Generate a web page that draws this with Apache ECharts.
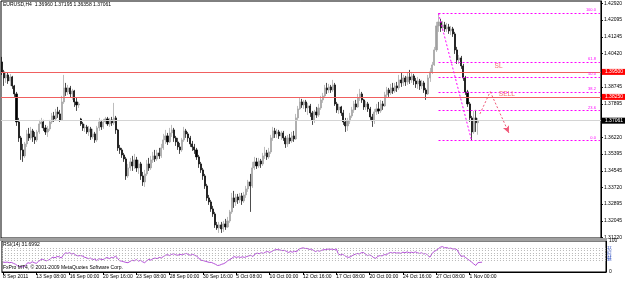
<!DOCTYPE html>
<html><head><meta charset="utf-8">
<script src="https://cdn.jsdelivr.net/npm/echarts@6.0.0/dist/echarts.min.js"></script>
<style>html,body{margin:0;padding:0;background:#fff}#c{width:625px;height:281px}</style>
</head><body><div id="c"></div>
<script>
// ---------- data ----------
const timeLabels = ['8 Sep 2011','13 Sep 08:00','16 Sep 00:00','20 Sep 16:00','23 Sep 08:00','28 Sep 00:00','30 Sep 16:00','5 Oct 08:00','10 Oct 00:00','12 Oct 16:00','17 Oct 08:00','20 Oct 00:00','24 Oct 16:00','27 Oct 08:00','1 Nov 00:00'];
const priceTicks = [1.42920,1.42095,1.41245,1.40420,1.38745,1.37895,1.36220,1.35395,1.34545,1.33720,1.32895,1.32045,1.31220];
// [open, close, low, high]
const candles = [
[1.4000,1.3950,1.3935,1.4025],[1.3950,1.3920,1.3880,1.3960],[1.3920,1.3935,1.3895,1.3950],[1.3935,1.3905,1.3890,1.3945],[1.3905,1.3925,1.3880,1.3940],
[1.3925,1.3880,1.3865,1.3930],[1.3880,1.3840,1.3825,1.3885],[1.3840,1.3700,1.3680,1.3850],[1.3700,1.3620,1.3600,1.3720],[1.3620,1.3560,1.3510,1.3630],
[1.3560,1.3530,1.3500,1.3590],[1.3530,1.3590,1.3520,1.3600],[1.3590,1.3640,1.3575,1.3660],[1.3640,1.3620,1.3605,1.3670],[1.3620,1.3655,1.3610,1.3675],
[1.3655,1.3625,1.3600,1.3665],[1.3625,1.3610,1.3590,1.3650],[1.3610,1.3650,1.3600,1.3660],[1.3650,1.3690,1.3640,1.3710],[1.3690,1.3700,1.3670,1.3720],
[1.3700,1.3670,1.3655,1.3710],[1.3670,1.3650,1.3635,1.3685],[1.3650,1.3665,1.3625,1.3680],[1.3665,1.3700,1.3655,1.3710],[1.3700,1.3730,1.3690,1.3745],
[1.3730,1.3715,1.3700,1.3750],[1.3715,1.3750,1.3705,1.3765],[1.3750,1.3740,1.3720,1.3775],[1.3740,1.3710,1.3700,1.3760],[1.3710,1.3800,1.3705,1.3830],
[1.3800,1.3870,1.3790,1.3935],[1.3870,1.3850,1.3830,1.3895],[1.3850,1.3870,1.3835,1.3885],[1.3870,1.3840,1.3820,1.3880],[1.3840,1.3855,1.3810,1.3865],
[1.3855,1.3800,1.3775,1.3860],[1.3800,1.3785,1.3755,1.3820],[1.3785,1.3790,1.3770,1.3800],[1.3715,1.3690,1.3680,1.3720],[1.3690,1.3670,1.3655,1.3700],
[1.3670,1.3675,1.3650,1.3690],[1.3675,1.3650,1.3640,1.3685],[1.3650,1.3665,1.3630,1.3680],[1.3665,1.3625,1.3610,1.3675],[1.3625,1.3640,1.3615,1.3665],
[1.3640,1.3610,1.3595,1.3650],[1.3610,1.3670,1.3600,1.3680],[1.3670,1.3700,1.3655,1.3720],[1.3700,1.3675,1.3660,1.3710],[1.3675,1.3700,1.3665,1.3715],
[1.3700,1.3715,1.3690,1.3725],[1.3715,1.3690,1.3680,1.3725],[1.3690,1.3710,1.3675,1.3720],[1.3710,1.3695,1.3680,1.3725],[1.3695,1.3720,1.3685,1.3795],
[1.3720,1.3660,1.3640,1.3730],[1.3660,1.3570,1.3555,1.3665],[1.3570,1.3560,1.3540,1.3585],[1.3560,1.3535,1.3520,1.3570],[1.3535,1.3515,1.3500,1.3545],
[1.3515,1.3430,1.3410,1.3525],[1.3430,1.3470,1.3420,1.3490],[1.3470,1.3500,1.3455,1.3520],[1.3500,1.3480,1.3455,1.3530],[1.3480,1.3510,1.3465,1.3540],
[1.3510,1.3470,1.3450,1.3525],[1.3470,1.3490,1.3440,1.3510],[1.3490,1.3430,1.3410,1.3500],[1.3430,1.3400,1.3380,1.3450],[1.3400,1.3440,1.3375,1.3460],
[1.3440,1.3490,1.3430,1.3510],[1.3490,1.3470,1.3455,1.3520],[1.3470,1.3510,1.3460,1.3530],[1.3510,1.3530,1.3495,1.3550],[1.3530,1.3515,1.3500,1.3560],
[1.3515,1.3545,1.3505,1.3560],[1.3545,1.3530,1.3515,1.3570],[1.3530,1.3570,1.3520,1.3590],[1.3570,1.3610,1.3560,1.3640],[1.3610,1.3630,1.3590,1.3660],
[1.3630,1.3600,1.3585,1.3645],[1.3600,1.3645,1.3595,1.3670],[1.3645,1.3660,1.3625,1.3685],[1.3660,1.3620,1.3600,1.3670],[1.3620,1.3600,1.3580,1.3630],
[1.3600,1.3575,1.3560,1.3620],[1.3575,1.3560,1.3540,1.3595],[1.3560,1.3610,1.3550,1.3620],[1.3610,1.3655,1.3600,1.3675],[1.3655,1.3640,1.3620,1.3665],
[1.3640,1.3620,1.3600,1.3650],[1.3620,1.3590,1.3575,1.3630],[1.3590,1.3575,1.3555,1.3605],[1.3575,1.3560,1.3540,1.3590],[1.3560,1.3525,1.3510,1.3570],
[1.3525,1.3490,1.3470,1.3535],[1.3490,1.3460,1.3445,1.3500],[1.3460,1.3430,1.3410,1.3470],[1.3430,1.3380,1.3365,1.3440],[1.3380,1.3320,1.3305,1.3390],
[1.3320,1.3300,1.3285,1.3335],[1.3300,1.3265,1.3250,1.3310],[1.3265,1.3240,1.3225,1.3280],[1.3240,1.3185,1.3170,1.3250],[1.3185,1.3170,1.3160,1.3200],
[1.3170,1.3185,1.3145,1.3200],[1.3185,1.3165,1.3145,1.3200],[1.3165,1.3190,1.3150,1.3205],[1.3190,1.3175,1.3160,1.3215],[1.3175,1.3205,1.3170,1.3225],
[1.3205,1.3250,1.3195,1.3260],[1.3250,1.3320,1.3240,1.3345],[1.3320,1.3300,1.3270,1.3355],[1.3300,1.3325,1.3280,1.3340],[1.3325,1.3310,1.3290,1.3340],
[1.3310,1.3330,1.3295,1.3345],[1.3330,1.3305,1.3285,1.3345],[1.3305,1.3335,1.3295,1.3350],[1.3335,1.3365,1.3320,1.3380],[1.3365,1.3400,1.3350,1.3410],
[1.3400,1.3380,1.3250,1.3440],[1.3380,1.3470,1.3370,1.3500],[1.3470,1.3500,1.3460,1.3525],[1.3500,1.3480,1.3465,1.3520],[1.3480,1.3505,1.3470,1.3520],
[1.3505,1.3490,1.3470,1.3515],[1.3490,1.3530,1.3480,1.3545],[1.3530,1.3545,1.3515,1.3575],[1.3545,1.3525,1.3510,1.3560],[1.3525,1.3550,1.3515,1.3570],
[1.3550,1.3620,1.3540,1.3635],[1.3620,1.3655,1.3605,1.3675],[1.3655,1.3640,1.3620,1.3670],[1.3640,1.3650,1.3620,1.3665],[1.3650,1.3630,1.3615,1.3660],
[1.3630,1.3645,1.3610,1.3655],[1.3645,1.3620,1.3605,1.3655],[1.3620,1.3590,1.3570,1.3630],[1.3590,1.3620,1.3575,1.3635],[1.3620,1.3605,1.3590,1.3640],
[1.3605,1.3630,1.3595,1.3650],[1.3630,1.3615,1.3600,1.3655],[1.3615,1.3720,1.3610,1.3740],[1.3720,1.3765,1.3705,1.3780],[1.3765,1.3800,1.3760,1.3820],
[1.3800,1.3785,1.3770,1.3815],[1.3785,1.3800,1.3765,1.3810],[1.3800,1.3770,1.3750,1.3810],[1.3770,1.3780,1.3735,1.3795],[1.3780,1.3745,1.3725,1.3790],
[1.3745,1.3710,1.3685,1.3755],[1.3710,1.3750,1.3695,1.3760],[1.3750,1.3735,1.3720,1.3775],[1.3735,1.3770,1.3725,1.3790],[1.3770,1.3810,1.3760,1.3830],
[1.3810,1.3830,1.3795,1.3845],[1.3830,1.3870,1.3820,1.3885],[1.3870,1.3860,1.3840,1.3895],[1.3860,1.3875,1.3845,1.3890],[1.3875,1.3860,1.3845,1.3885],
[1.3860,1.3885,1.3850,1.3910],[1.3885,1.3790,1.3780,1.3895],[1.3790,1.3760,1.3745,1.3800],[1.3760,1.3775,1.3740,1.3790],[1.3775,1.3745,1.3730,1.3780],
[1.3745,1.3700,1.3685,1.3760],[1.3700,1.3680,1.3650,1.3720],[1.3680,1.3705,1.3655,1.3720],[1.3705,1.3730,1.3690,1.3745],[1.3730,1.3760,1.3720,1.3775],
[1.3760,1.3790,1.3745,1.3805],[1.3790,1.3775,1.3760,1.3810],[1.3775,1.3820,1.3770,1.3840],[1.3820,1.3840,1.3805,1.3865],[1.3840,1.3810,1.3795,1.3850],
[1.3810,1.3775,1.3760,1.3815],[1.3775,1.3790,1.3760,1.3805],[1.3790,1.3765,1.3750,1.3800],[1.3765,1.3725,1.3710,1.3775],[1.3725,1.3705,1.3675,1.3740],
[1.3705,1.3750,1.3690,1.3765],[1.3750,1.3765,1.3735,1.3790],[1.3765,1.3755,1.3740,1.3800],[1.3755,1.3790,1.3745,1.3810],[1.3790,1.3780,1.3760,1.3805],
[1.3780,1.3835,1.3775,1.3850],[1.3835,1.3860,1.3820,1.3875],[1.3860,1.3845,1.3825,1.3870],[1.3845,1.3870,1.3835,1.3890],[1.3870,1.3855,1.3840,1.3895],
[1.3855,1.3880,1.3845,1.3895],[1.3880,1.3870,1.3850,1.3900],[1.3870,1.3910,1.3860,1.3935],[1.3910,1.3895,1.3875,1.3945],[1.3895,1.3920,1.3880,1.3935],
[1.3920,1.3900,1.3880,1.3930],[1.3900,1.3925,1.3885,1.3945],[1.3925,1.3910,1.3890,1.3960],[1.3910,1.3930,1.3895,1.3950],[1.3930,1.3905,1.3885,1.3940],
[1.3905,1.3890,1.3870,1.3920],[1.3890,1.3905,1.3865,1.3925],[1.3905,1.3880,1.3860,1.3915],[1.3880,1.3895,1.3865,1.3910],[1.3895,1.3860,1.3845,1.3905],
[1.3860,1.3840,1.3810,1.3870],[1.3840,1.3920,1.3835,1.3935],[1.3920,1.3950,1.3900,1.3970],[1.3950,1.3985,1.3940,1.4000],[1.3985,1.4060,1.3980,1.4075],
[1.4060,1.4180,1.4050,1.4200],[1.4180,1.4200,1.4150,1.4243],[1.4200,1.4170,1.4150,1.4215],[1.4170,1.4185,1.4155,1.4205],[1.4185,1.4165,1.4150,1.4200],
[1.4165,1.4175,1.4150,1.4195],[1.4175,1.4155,1.4140,1.4190],[1.4155,1.4165,1.4135,1.4180],[1.4165,1.4140,1.4125,1.4175],[1.4140,1.4060,1.4040,1.4150],
[1.4060,1.4010,1.3990,1.4075],[1.4010,1.4020,1.3990,1.4035],[1.4020,1.3980,1.3965,1.4030],[1.3980,1.3920,1.3905,1.3990],[1.3920,1.3850,1.3835,1.3930],
[1.3850,1.3790,1.3775,1.3860],[1.3790,1.3720,1.3700,1.3800],[1.3720,1.3650,1.3606,1.3730],[1.3650,1.3720,1.3640,1.3755],[1.3720,1.3696,1.3650,1.3760],
[1.36960,1.37061,1.36358,1.37195]
];
const rsi = [
32,31,32,30,31,28,25,20,18,17, 16,24,30,28,33,30,28,34,39,41,
38,36,39,44,48,46,50,49,45,55, 62,60,62,58,60,54,52,53,52,48,
46,43,45,39,42,37,43,41,40,44, 47,43,47,45,52,44,36,35,33,31,
30,34,38,36,40,35,38,33,30,36, 41,38,43,45,43,47,45,50,54,56,
53,57,59,55,54,57,55,58,60,56, 54,57,54,51,45,38,37,35,33,31,
31,28,25,21,22,25,27,31,37,40, 45,50,47,49,47,49,47,50,52,54,
50,58,61,59,62,60,64,66,63,66, 70,72,72,71,69,70,67,63,66,64,
67,65,74,76,78,76,76,73,74,70, 66,69,67,70,72,72,74,73,74,72,
75,58,55,57,53,49,47,50,54,57, 60,58,62,63,58,53,55,52,46,44,
51,53,52,56,55,60,63,61,63,61, 62,60,64,62,65,62,64,62,65,62,
60,62,58,60,53,48,60,66,70,75, 80,82,78,79,76,77,74,75,72,60,
50,52,47,42,37,32,26,21,30,31,31.7
];
const rsiLevels = [77, 70, 62, 53, 44, 38];
const fibLevels = [0, 23.6, 38.2, 50, 61.8, 100];
const fibHigh = 1.4243, fibLow = 1.3606, fibHighBar = 211, fibLowBar = 227;
const redLines = [1.39500, 1.38250];
const lastPrice = 1.37061;
const arrowPath = [[231, 1.3740], [236, 1.3851], [245, 1.3645]];
const notes = [{text: 'SL', bar: 240, price: 1.3976}, {text: 'SELL', bar: 244, price: 1.3836}];

// ---------- chart ----------
const N = 290; // bar slots across the chart width (incl. right shift)
const cats = Array.from({length: N}, (_, i) => String(i));
const FONT = 'Liberation Sans';
const fibRange = fibHigh - fibLow;
const fibStyle = {color: '#ff00ff', type: [2, 2], width: 1};

const markLineData = [];
redLines.forEach(v => markLineData.push({
  yAxis: v, lineStyle: {color: '#f06060', type: 'solid', width: 1},
  label: {show: true, position: 'end', distance: 1, formatter: v.toFixed(5), backgroundColor: '#ff0000', color: '#fff', fontSize: 5, fontFamily: FONT, padding: [1, 3, 0, 3]}
}));
markLineData.push({
  yAxis: lastPrice, lineStyle: {color: '#d4d4d4', type: 'solid', width: 1},
  label: {show: true, position: 'end', distance: 1, formatter: lastPrice.toFixed(5), backgroundColor: '#000', color: '#fff', fontSize: 5, fontFamily: FONT, padding: [1, 3, 0, 3]}
});
fibLevels.forEach(l => {
  const p = fibLow + fibRange * l / 100;
  const lab = {show: true, position: 'insideEndTop', distance: [4, 1], formatter: l.toFixed(1), color: '#ff00ff', fontSize: 4, fontFamily: FONT};
  markLineData.push([{coord: [fibHighBar, p], lineStyle: fibStyle, label: lab}, {coord: [N - 1, p], lineStyle: fibStyle, label: lab}]);
});
markLineData.push([{coord: [fibHighBar, fibHigh], lineStyle: fibStyle, label: {show: false}}, {coord: [fibLowBar, fibLow], lineStyle: fibStyle, label: {show: false}}]);
const arrowStyle = {color: '#f05878', type: [2, 2], width: 1};
for (let k = 0; k < arrowPath.length - 1; k++) {
  const last = k === arrowPath.length - 2;
  markLineData.push([
    {coord: arrowPath[k], lineStyle: arrowStyle, label: {show: false}},
    {coord: arrowPath[k + 1], lineStyle: arrowStyle, label: {show: false}, symbol: last ? 'arrow' : 'none', symbolSize: last ? [5, 7] : 0}
  ]);
}

const option = {
  animation: false,
  backgroundColor: '#fff',
  grid: [
    {left: 1, top: 1, width: 605, height: 237, show: true, borderColor: '#000', borderWidth: 1},
    {left: 1, top: 241, width: 605, height: 31, show: true, borderColor: '#000', borderWidth: 1}
  ],
  xAxis: [
    {type: 'category', gridIndex: 0, data: cats, boundaryGap: true, show: false},
    {type: 'category', gridIndex: 1, data: cats, boundaryGap: true,
     axisLine: {show: true, lineStyle: {color: '#000', width: 1}},
     axisTick: {show: true, alignWithLabel: true, length: 3, interval: (i) => i % 16 === 0 && i / 16 < timeLabels.length, lineStyle: {color: '#000'}},
     axisLabel: {show: true, interval: (i) => i % 16 === 0 && i / 16 < timeLabels.length, formatter: (v, i) => timeLabels[i / 16] || '', align: 'left', margin: 2, fontSize: 5, fontFamily: FONT, color: '#000'},
     splitLine: {show: false}}
  ],
  yAxis: [
    {type: 'value', gridIndex: 0, position: 'right', min: 1.31195, max: 1.43045, scale: true,
     axisLine: {show: true, lineStyle: {color: '#000'}},
     axisTick: {show: true, length: 2, customValues: priceTicks, lineStyle: {color: '#000'}},
     axisLabel: {show: true, customValues: priceTicks, formatter: v => v.toFixed(5), fontSize: 5, fontFamily: FONT, color: '#000', margin: 3},
     splitLine: {show: false}},
    {type: 'value', gridIndex: 1, position: 'right', min: 0, max: 100,
     axisLine: {show: true, lineStyle: {color: '#000'}},
     axisTick: {show: false},
     axisLabel: {show: true, customValues: [0, 100], fontSize: 5, fontFamily: FONT, color: '#000', margin: 3},
     splitLine: {show: false}}
  ],
  series: [
    {type: 'candlestick', xAxisIndex: 0, yAxisIndex: 0, data: candles, barWidth: 1.6,
     itemStyle: {color: '#a0a0a0', color0: '#000', borderColor: '#a0a0a0', borderColor0: '#000', borderWidth: 0.7},
     markLine: {silent: true, precision: 6, symbol: ['none', 'none'], data: markLineData},
     markPoint: {silent: true, symbol: 'rect', symbolSize: 1, itemStyle: {color: 'rgba(0,0,0,0)'},
       label: {show: true, position: 'inside', color: '#f07070', fontSize: 6.5, fontFamily: FONT},
       data: notes.map(n => ({coord: [n.bar, n.price], value: n.text, label: {formatter: n.text}}))}},
    {type: 'line', xAxisIndex: 1, yAxisIndex: 1, data: rsi, symbol: 'none', showSymbol: false,
     lineStyle: {color: '#b450d8', width: 1},
     markLine: {silent: true, precision: 2, symbol: ['none', 'none'],
       lineStyle: {color: '#b8b8b8', type: [1, 2], width: 1},
       label: {show: true, position: 'end', distance: 1, color: '#3050c0', fontSize: 4, fontFamily: FONT, formatter: p => String(p.value)},
       data: rsiLevels.map(v => ({yAxis: v}))}}
  ],
  graphic: [
    {type: 'rect', shape: {x: 0, y: 238, width: 607, height: 3}, style: {fill: '#a0a0a0'}, z: 100},
    {type: 'text', left: 3, top: 2.5, style: {text: 'EURUSD,H4  1.36960 1.37195 1.36358 1.37061', font: '5px "Liberation Sans"', fill: '#000'}, z: 100},
    {type: 'text', left: 3, top: 242.5, style: {text: 'RSI(14) 31.6992', font: '5px "Liberation Sans"', fill: '#000'}, z: 100},
    {type: 'text', left: 3, top: 265.5, style: {text: 'FxPro MT4, © 2001-2009 MetaQuotes Software Corp.', font: '5px "Liberation Sans"', fill: '#000'}, z: 100}
  ]
};
const chart = echarts.init(document.getElementById('c'), null, {renderer: 'canvas'});
chart.setOption(option);
</script>
</body></html>
